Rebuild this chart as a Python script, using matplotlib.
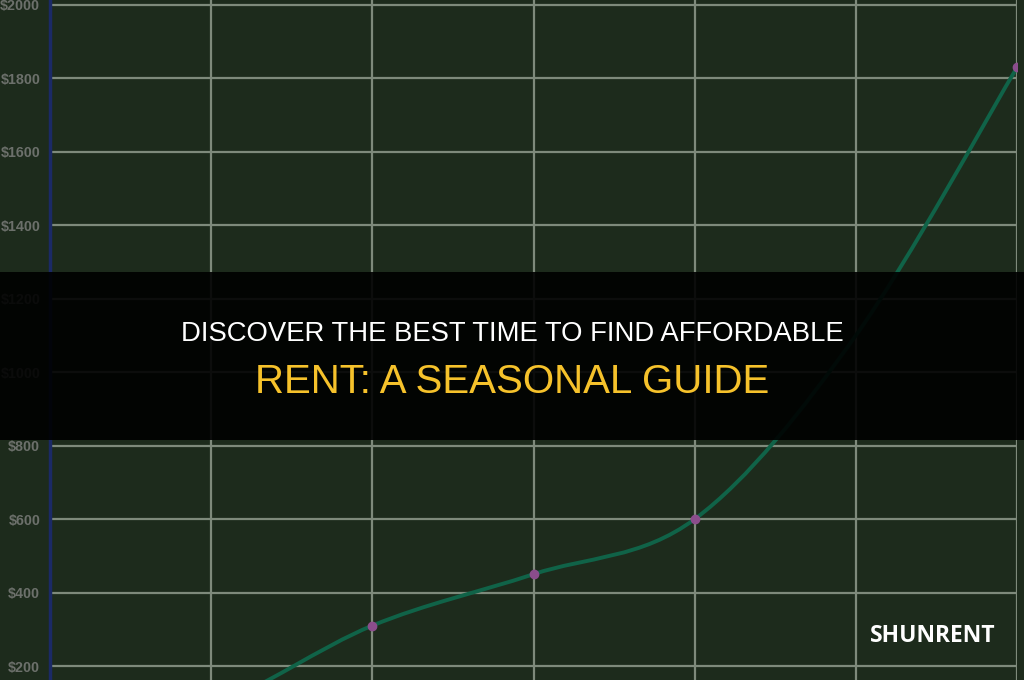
import matplotlib
matplotlib.use("Agg")
import matplotlib.pyplot as plt
import matplotlib.ticker as ticker
from matplotlib.path import Path
from matplotlib.patches import PathPatch, Rectangle
import numpy as np

# Data (first two points sit below the visible area)
period_idx = [0, 1, 2, 3, 4, 5, 6]
rent = [0, 90, 310, 450, 600, 1100, 1830]
marker_idx = [2, 3, 4, 6]
marker_rent = [310, 450, 600, 1830]
y_ticks = [200, 400, 600, 800, 1000, 1200, 1400, 1600, 1800, 2000]

title_1 = "DISCOVER THE BEST TIME TO FIND AFFORDABLE"
title_2 = "RENT: A SEASONAL GUIDE"
brand = "SHUNRENT"

BG = "#1d2b1c"
GRID = "#7e8a7b"
LINE = "#106348"
MARK = "#8b4d8c"


def smooth_path(xs, ys):
    # Catmull-Rom through the points, written as cubic Bezier segments
    xs, ys = np.asarray(xs, float), np.asarray(ys, float)
    pts = np.column_stack([xs, ys])
    verts = [pts[0]]
    codes = [Path.MOVETO]
    for i in range(len(pts) - 1):
        p0 = pts[i - 1] if i > 0 else pts[i]
        p1, p2 = pts[i], pts[i + 1]
        p3 = pts[i + 2] if i + 2 < len(pts) else pts[i + 1]
        verts += [p1 + (p2 - p0) / 6, p2 - (p3 - p1) / 6, p2]
        codes += [Path.CURVE4] * 3
    return Path(verts, codes)


fig = plt.figure(figsize=(10.24, 6.8), dpi=100, facecolor=BG)
ax = fig.add_axes([50 / 1024, 0, 967 / 1024, 1])
ax.set_facecolor(BG)

ax.set_xlim(0, 6)
ax.set_ylim(161.9, 2013.6)
ax.set_xticks(period_idx)
ax.set_yticks(y_ticks)
ax.yaxis.set_major_formatter(ticker.FuncFormatter(lambda v, _: f"${v:.0f}"))
ax.tick_params(axis="y", length=0, pad=7, labelsize=10.3, labelcolor="#6c706b")
ax.tick_params(axis="x", length=0, labelbottom=False)
for lab in ax.get_yticklabels():
    lab.set_fontweight("bold")
    lab.set_family(["Liberation Sans", "DejaVu Sans"])
ax.grid(True, color=GRID, linewidth=1.6)
ax.set_axisbelow(True)
for s in ["top", "right", "bottom"]:
    ax.spines[s].set_visible(False)
ax.spines["left"].set_color("#1b2a66")
ax.spines["left"].set_linewidth(2.5)

ax.add_patch(PathPatch(smooth_path(period_idx, rent), fill=False, edgecolor=LINE,
                       linewidth=2.8, zorder=4, capstyle="round"))
ax.plot(marker_idx, marker_rent, linestyle="none", marker="o", markersize=6,
        color=MARK, zorder=5)

# dark title banner across the middle
fig.patches.append(Rectangle((0, 1 - 440 / 680), 1, 168 / 680, transform=fig.transFigure,
                             facecolor="black", alpha=0.9, zorder=10))
fig.text(0.5, 1 - 334 / 680, title_1, ha="center", va="center", color="white",
         fontsize=19.8, family=["Liberation Sans", "DejaVu Sans"], zorder=11)
fig.text(0.5, 1 - 382 / 680, title_2, ha="center", va="center", color="#f6c22b",
         fontsize=29, family=["Liberation Sans", "DejaVu Sans"], zorder=11)

fig.text(933 / 1024, 1 - 636 / 680, brand, ha="center", va="center", color="white",
         fontsize=16.5, fontweight="bold", family=["Open Sans", "DejaVu Sans"], zorder=11)

fig.savefig("out.png", dpi=100, facecolor=BG)
